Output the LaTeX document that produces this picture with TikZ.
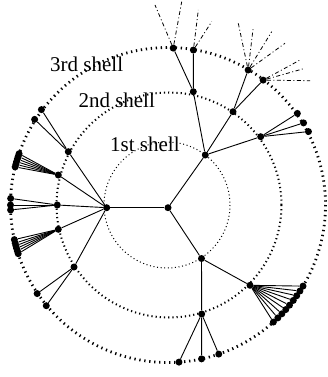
\documentclass[tikz,border=0pt]{standalone}
\usepackage{fontspec}
\setmainfont{Liberation Serif}
\tikzset{
  pt/.style={circle, fill=black, inner sep=0pt, minimum size=7pt},
  edge/.style={line width=0.9pt, black},
  futureedge/.style={line width=0.8pt, black, dash pattern=on 4pt off 2.5pt on 1pt off 2.5pt},
  shellone/.style={line width=1pt, dash pattern=on 1pt off 2.6pt},
  shelltwo/.style={line width=2pt, dash pattern=on 1.2pt off 3pt},
  shellthree/.style={line width=2.8pt, dash pattern=on 1.3pt off 3.7pt},
  lbl/.style={font=\fontsize{21}{24}\selectfont, inner sep=0pt, anchor=base west}
}
\begin{document}
\begin{tikzpicture}[x=1pt,y=-1pt]
\useasboundingbox (0,0) rectangle (328,377);
\coordinate (O) at (168,205);
% shells
\draw[shellthree] (O) circle[radius=157.5];
\draw[shelltwo] (169,205) circle[radius=112.5];
\draw[shellone] (167,205) circle[radius=63];
% labels
\node[lbl] (t3) at (50,72) {3rd shell};
\node[lbl] (t2) at (78.3,107.7) {2nd shell};
\node[lbl] (t1) at (110,151.7) {1st shell};
% root and first level
\node[pt] (R) at (168,207.7) {};
\node[pt] (A) at (106.7,207.7) {};
\node[pt] (B) at (205.3,155) {};
\node[pt] (C) at (201.5,258.5) {};
\draw[edge] (R) -- (A);
\draw[edge] (R) -- (B);
\draw[edge] (R) -- (C);
% second level
\node[pt] (A1) at (68.3,151.7) {};
\node[pt] (A2) at (58.3,175) {};
\node[pt] (A3) at (57.3,205) {};
\node[pt] (A4) at (58.3,229.3) {};
\node[pt] (A5) at (74,267) {};
\node[pt] (B1) at (193.3,91.7) {};
\node[pt] (B2) at (233,111.7) {};
\node[pt] (B3) at (260.7,136.7) {};
\node[pt] (C1) at (250,285.3) {};
\node[pt] (C2) at (201.7,314) {};
\foreach \n in {A1,A2,A3,A4,A5} \draw[edge] (A) -- (\n);
\foreach \n in {B1,B2,B3} \draw[edge] (B) -- (\n);
\foreach \n in {C1,C2} \draw[edge] (C) -- (\n);
% third level
\begin{scope}[shift={(168,205)}]
  \foreach \a [count=\i] in {217,212.7} {\node[pt] (a1c\i) at (\a:158.5) {}; \draw[edge] (A1) -- (a1c\i);}
  \foreach \a [count=\i] in {194,195,196,197,198,199} {\node[pt] (a2c\i) at (\a:157.5) {}; \draw[edge] (A2) -- (a2c\i);}
  \foreach \a [count=\i] in {182.4,180,178.2} {\node[pt] (a3c\i) at (\a:157.5) {}; \draw[edge] (A3) -- (a3c\i);}
  \foreach \a [count=\i] in {162,163,164,165,166,167.3} {\node[pt] (a4c\i) at (\a:157.5) {}; \draw[edge] (A4) -- (a4c\i);}
  \foreach \a [count=\i] in {145.9,140.4} {\node[pt] (a5c\i) at (\a:158) {}; \draw[edge] (A5) -- (a5c\i);}
  \foreach \a [count=\i] in {271.9,279.3} {\node[pt] (b1c\i) at (\a:157) {}; \draw[edge] (B1) -- (b1c\i);}
  \foreach \a [count=\i] in {300.7,307.3} {\node[pt] (b2c\i) at (\a:157) {}; \draw[edge] (B2) -- (b2c\i);}
  \foreach \a [count=\i] in {324.7,328.8,332.4} {\node[pt] (b3c\i) at (\a:158.5) {}; \draw[edge] (B3) -- (b3c\i);}
  \foreach \a [count=\i] in {31,33.1,35.2,37.3,39.5,41.6,43.7,45.8,48} {\node[pt] (c1c\i) at (\a:157.5) {}; \draw[edge] (C1) -- (c1c\i);}
  \foreach \a [count=\i] in {86,77.7,71.2} {\node[pt] (c2c\i) at (\a:157.5) {}; \draw[edge] (C2) -- (c2c\i);}
\end{scope}
% outgoing (truncated) links
\coordinate (f11) at (155,5);
\coordinate (f12) at (181.7,1.7);
\coordinate (f21) at (198.3,10);
\coordinate (f22) at (211.7,21.7);
\coordinate (f31) at (238.3,23.3);
\coordinate (f32) at (253.3,26.7);
\coordinate (f33) at (271.7,31.7);
\coordinate (f34) at (285,43.3);
\coordinate (f41) at (300,60);
\coordinate (f42) at (305,68.3);
\coordinate (f43) at (310,80.7);
\draw[futureedge] (b1c1) -- (f11);
\draw[futureedge] (b1c1) -- (f12);
\draw[futureedge] (b1c2) -- (f21);
\draw[futureedge] (b1c2) -- (f22);
\foreach \k in {1,2,3,4} \draw[futureedge] (b2c1) -- (f3\k);
\foreach \k in {1,2,3} \draw[futureedge] (b2c2) -- (f4\k);
\end{tikzpicture}
\end{document}
